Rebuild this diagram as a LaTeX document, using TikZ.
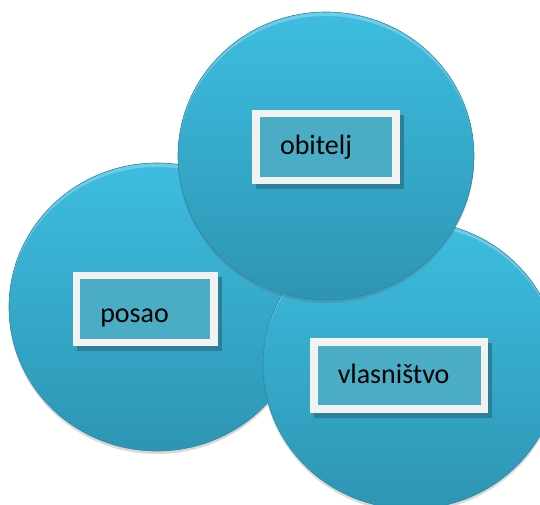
\documentclass[tikz,border=0pt]{standalone}
\usepackage{fontspec}
\setmainfont{Carlito}
\usetikzlibrary{shapes.geometric,shadows}
\definecolor{ballTop}{HTML}{3DBDE0}
\definecolor{ballBottom}{HTML}{2E95B3}
\definecolor{ballEdge}{HTML}{2A86A2}
\definecolor{tagFill}{HTML}{4BACC6}
\definecolor{tagEdge}{HTML}{F2F2F2}
\definecolor{tagShadow}{HTML}{2B7F99}

\begin{document}
\begin{tikzpicture}[
          x=1pt,y=-1pt,
          ball/.style={ellipse,minimum width=296pt,minimum height=288pt,inner sep=0pt,
            top color=ballTop,bottom color=ballBottom,draw=ballEdge,line width=.6pt,
            drop shadow={shadow xshift=0pt,shadow yshift=-3pt,fill=black!60,opacity=.25},
            path picture={\fill[white,opacity=.25,even odd rule]
              (path picture bounding box.center) ellipse [x radius=148pt,y radius=144pt]
              ([yshift=-2pt]path picture bounding box.center) ellipse [x radius=148pt,y radius=142pt];}},
          tag/.style={rectangle,fill=tagFill,draw=tagEdge,line width=7.5pt,
            inner xsep=24pt,inner ysep=0pt,align=left,text width=#1,
            minimum height=67pt,text height=19.5pt,text depth=3.5pt,
            font=\fontsize{28}{34}\selectfont,
            drop shadow={shadow xshift=4pt,shadow yshift=-5pt,fill=tagShadow,
              draw=tagShadow,line width=7.5pt,opacity=1}}
            ]
    \useasboundingbox (0,0) rectangle (540,505);
    % the three circles
    \node[ball] (posaoball) at (157,307) {};
    \node[ball] (vlasball) at (411,365) {};
    \node[ball] (obiteljball) at (326,156) {};
    % the labels
    \node[tag=92pt] (obitelj) at (326,147) {obitelj};
    \node[tag=89.5pt,text height=29.5pt] (posao) at (145,309) {posao};
    \node[tag=122.5pt] (vlasnistvo) at (399,375.5) {vlasništvo};
\end{tikzpicture}
\end{document}
